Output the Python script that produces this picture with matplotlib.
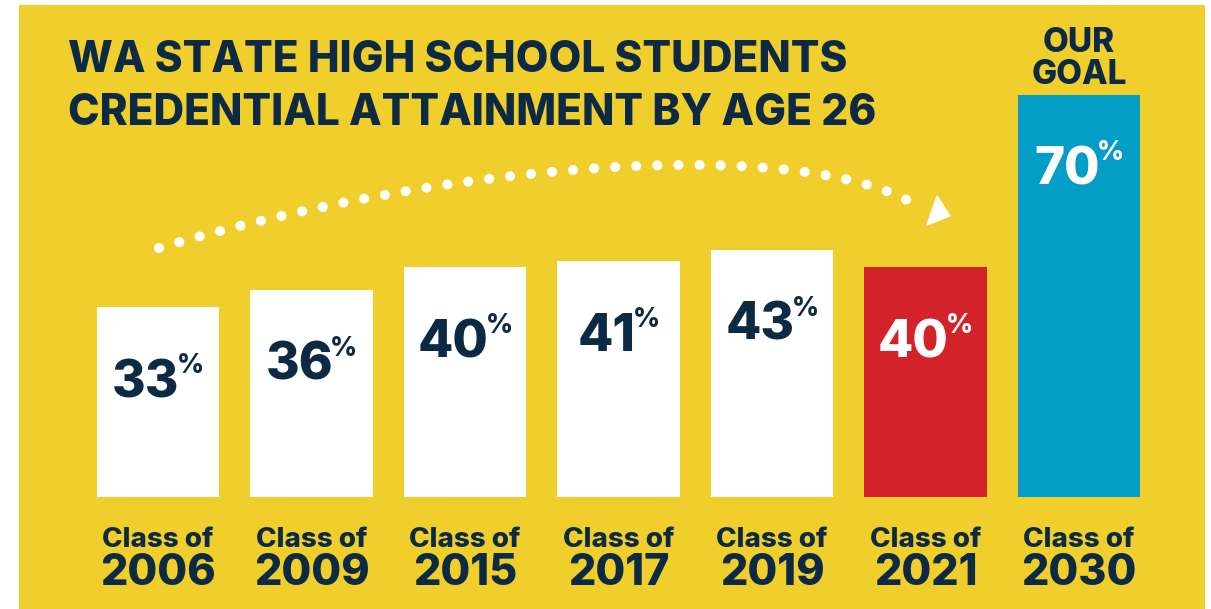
import matplotlib
matplotlib.use("Agg")
import matplotlib.pyplot as plt
from matplotlib.path import Path
from matplotlib.patches import PathPatch, Rectangle, Polygon

# credential attainment by age 26, per graduating class
classes = ["2006", "2009", "2015", "2017", "2019", "2021", "2030"]
attainment = [33, 36, 40, 41, 43, 40, 70]
bar_colors = ["white", "white", "white", "white", "white", "#D3222A", "#039DC6"]
label_colors = ["#0C2A43", "#0C2A43", "#0C2A43", "#0C2A43", "#0C2A43", "white", "white"]

YELLOW = "#F0CF2D"
NAVY = "#0C2A43"
FONT = "Inter"
WEIGHT = "heavy"

W, H, DPI = 1211, 609, 100
PX_PER_PCT = 5.75   # bar height in pixels for one percent
BASE_PX = 497       # pixel row of the bar baseline

fig = plt.figure(figsize=(W / DPI, H / DPI), dpi=DPI, facecolor="white")

# backdrop / title / arrow layer, in pixel units with y pointing down
bg = fig.add_axes([0, 0, 1, 1], zorder=0)
bg.set_xlim(0, W)
bg.set_ylim(H, 0)
bg.axis("off")
bg.add_patch(Rectangle((19, 5), 1186, 604, color=YELLOW, lw=0))

bg.text(68, 72, "WA STATE HIGH SCHOOL STUDENTS", fontsize=30.5, fontweight=WEIGHT,
        family=FONT, color=NAVY, va="baseline", ha="left")
bg.text(68, 125, "CREDENTIAL ATTAINMENT BY AGE 26", fontsize=30.5, fontweight=WEIGHT,
        family=FONT, color=NAVY, va="baseline", ha="left")

# dotted arc leading up to the 2021 bar
arc = Path([(159, 248), (450, 162), (800, 134), (918, 206)],
           [Path.MOVETO, Path.CURVE4, Path.CURVE4, Path.CURVE4])
bg.add_patch(PathPatch(arc, fill=False, ec="white", lw=7.2,
                       linestyle=(0, (0.01, 2.1)), capstyle="round"))
bg.add_patch(Polygon([(937, 196), (950, 216), (927, 225)], closed=True,
                     fc="white", ec="white", lw=1))

# bars
x0 = 158 - 0.5 * 153.5
ax = fig.add_axes([x0 / W, (H - BASE_PX) / H, 7 * 153.5 / W, 80 * PX_PER_PCT / H],
                  zorder=1)
ax.patch.set_alpha(0)
ax.set_xlim(-0.5, 6.5)
ax.set_ylim(0, 80)
ax.axis("off")

xs = range(len(classes))
ax.bar(xs, attainment, width=0.795, color=bar_colors, lw=0)

pt = 72 / DPI  # points per pixel
fig.canvas.draw()
r = fig.canvas.get_renderer()
for i, v in enumerate(attainment):
    num = ax.annotate(str(v), xy=(i, v), xytext=(0, -90 * pt), textcoords="offset points",
                      ha="left", va="baseline", fontsize=37, fontweight=WEIGHT,
                      family=FONT, color=label_colors[i])
    pct = ax.annotate("%", xy=(i, v), xytext=(0, -66 * pt), textcoords="offset points",
                      ha="left", va="baseline", fontsize=19, fontweight=WEIGHT,
                      family=FONT, color=label_colors[i])
    w_num = num.get_window_extent(r).width
    w_pct = pct.get_window_extent(r).width
    gap = -3
    left = -(w_num + w_pct + gap) / 2
    num.xyann = (left * pt, -90 * pt)
    pct.xyann = ((left + w_num + gap) * pt, -66 * pt)

    ax.annotate("Class of", xy=(i, 0), xytext=(0, -50 * pt), textcoords="offset points",
                ha="center", va="baseline", fontsize=20, fontweight=WEIGHT,
                family=FONT, color=NAVY)
    ax.annotate(classes[i], xy=(i, 0), xytext=(0, -88 * pt), textcoords="offset points",
                ha="center", va="baseline", fontsize=31, fontweight=WEIGHT,
                family=FONT, color=NAVY)

# goal heading over the last bar
ax.annotate("OUR", xy=(6, attainment[6]), xytext=(0, 42 * pt), textcoords="offset points",
            ha="center", va="baseline", fontsize=24, fontweight=WEIGHT,
            family=FONT, color=NAVY)
ax.annotate("GOAL", xy=(6, attainment[6]), xytext=(0, 10 * pt), textcoords="offset points",
            ha="center", va="baseline", fontsize=24, fontweight=WEIGHT,
            family=FONT, color=NAVY)

fig.savefig("out.png", dpi=DPI, facecolor="white")
